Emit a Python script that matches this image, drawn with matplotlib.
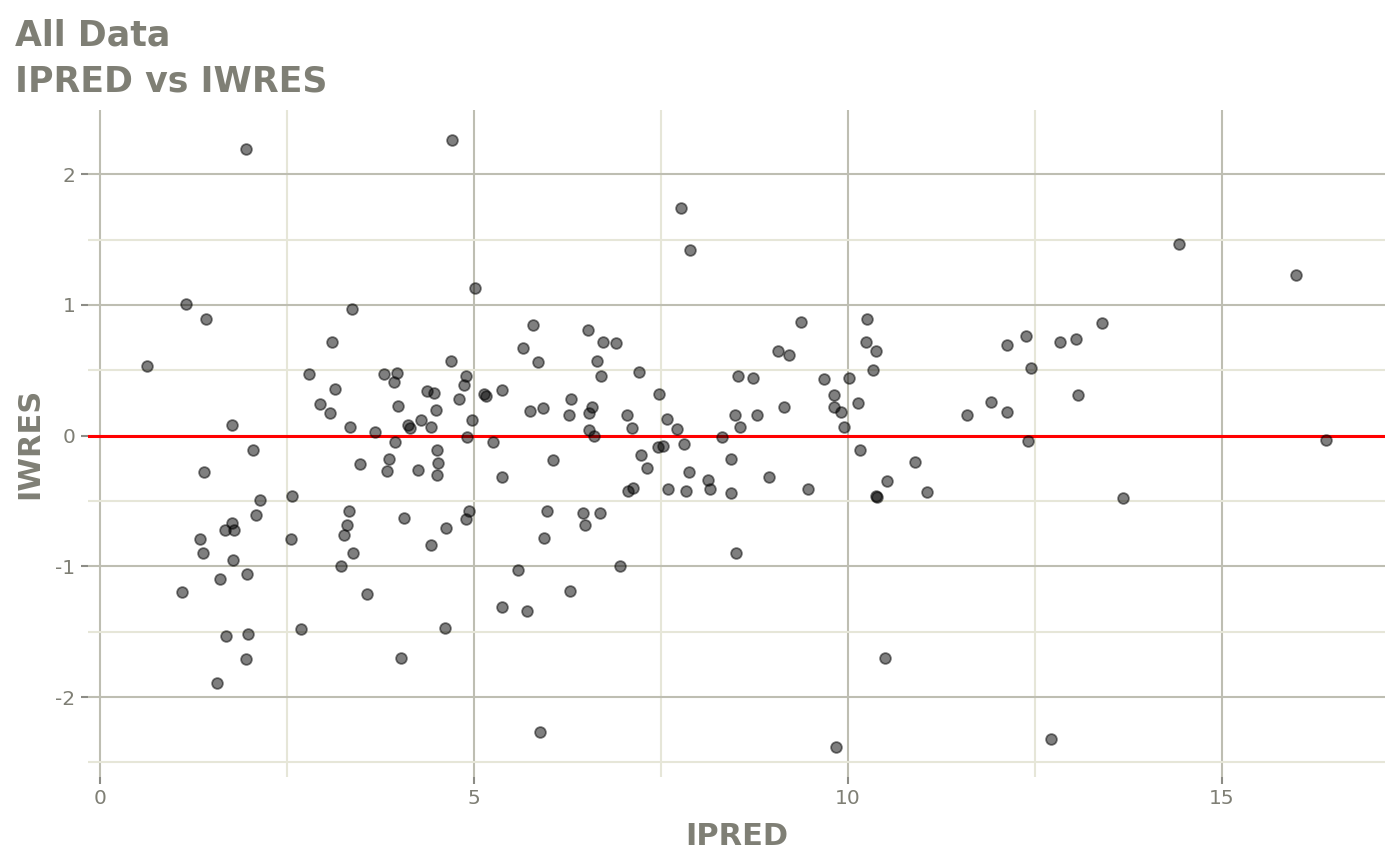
import matplotlib
matplotlib.use("Agg")
import matplotlib.pyplot as plt

# IPRED / IWRES values
ipred = [1.95, 1.15, 1.42, 3.37, 0.63, 3.10, 2.80, 3.80, 3.97, 3.93,
         3.15, 2.94, 3.08, 3.98, 1.77, 3.35, 3.68, 3.94, 2.05, 1.39,
         2.14, 2.57, 3.48, 3.86, 3.84, 2.09, 1.77, 1.67, 1.80, 1.34,
         1.38, 1.78, 2.55, 3.33, 3.31, 3.26, 3.39, 3.23, 4.07, 1.97,
         1.60, 1.10, 3.57, 2.69, 1.68, 1.98, 1.95, 1.56, 4.02, 4.71,
         7.77, 7.89, 5.02, 5.79, 6.52, 6.72, 6.90, 5.65, 6.65, 5.86,
         4.70, 6.70, 7.21, 4.89, 4.87, 4.37, 4.47, 4.80, 5.14, 5.16,
         5.38, 4.50, 4.29, 4.12, 4.14, 4.42, 4.97, 4.91, 4.51, 5.25,
         5.75, 5.92, 6.30, 6.27, 6.54, 6.58, 6.54, 6.60, 7.05, 7.11,
         7.47, 7.58, 7.72, 7.81, 7.53, 7.46, 4.25, 4.52, 4.51, 5.38,
         6.06, 7.24, 7.31, 7.88, 7.06, 7.13, 7.60, 7.83, 4.63, 4.90,
         4.94, 4.42, 5.98, 6.46, 6.49, 6.68, 5.94, 5.59, 6.95, 6.28,
         5.38, 5.71, 4.62, 5.89, 9.37, 10.26, 10.24, 10.38, 9.07, 9.21,
         10.33, 8.53, 8.73, 9.68, 10.01, 9.81, 10.14, 9.15, 9.81, 9.91,
         9.95, 8.49, 8.79, 8.56, 8.32, 11.59, 10.16, 8.43, 8.13, 8.15,
         8.44, 8.94, 9.47, 10.90, 10.52, 10.37, 10.39, 11.06, 8.51, 10.50,
         9.84, 14.43, 15.99, 13.40, 12.38, 12.13, 12.83, 13.05, 12.45, 13.08,
         11.91, 12.12, 12.41, 16.39, 13.67, 12.71]
iwres = [2.19, 1.01, 0.89, 0.97, 0.53, 0.72, 0.47, 0.47, 0.48, 0.41,
         0.36, 0.24, 0.17, 0.23, 0.08, 0.07, 0.03, -0.05, -0.11, -0.28,
         -0.49, -0.46, -0.22, -0.18, -0.27, -0.61, -0.67, -0.72, -0.72, -0.79,
         -0.90, -0.95, -0.79, -0.58, -0.68, -0.76, -0.90, -1.00, -0.63, -1.06,
         -1.10, -1.20, -1.21, -1.48, -1.53, -1.52, -1.71, -1.89, -1.70, 2.26,
         1.74, 1.42, 1.13, 0.85, 0.81, 0.72, 0.71, 0.67, 0.57, 0.56,
         0.57, 0.46, 0.49, 0.46, 0.39, 0.34, 0.33, 0.28, 0.32, 0.30,
         0.35, 0.20, 0.12, 0.08, 0.06, 0.07, 0.12, -0.01, -0.11, -0.05,
         0.19, 0.21, 0.28, 0.16, 0.17, 0.22, 0.04, 0.00, 0.16, 0.06,
         0.32, 0.13, 0.05, -0.06, -0.08, -0.09, -0.26, -0.21, -0.30, -0.32,
         -0.19, -0.15, -0.25, -0.28, -0.42, -0.40, -0.41, -0.42, -0.71, -0.64,
         -0.58, -0.84, -0.58, -0.59, -0.68, -0.59, -0.78, -1.03, -1.00, -1.19,
         -1.31, -1.34, -1.47, -2.27, 0.87, 0.89, 0.72, 0.65, 0.65, 0.62,
         0.50, 0.46, 0.44, 0.43, 0.44, 0.31, 0.25, 0.22, 0.22, 0.18,
         0.07, 0.16, 0.16, 0.07, -0.01, 0.16, -0.11, -0.18, -0.34, -0.41,
         -0.44, -0.32, -0.41, -0.20, -0.35, -0.46, -0.47, -0.43, -0.90, -1.70,
         -2.38, 1.47, 1.23, 0.86, 0.76, 0.69, 0.72, 0.74, 0.52, 0.31,
         0.26, 0.18, -0.04, -0.03, -0.48, -2.32]

x_major = [0, 5, 10, 15]
x_minor = [2.5, 7.5, 12.5]
y_major = [-2, -1, 0, 1, 2]
y_minor = [-2.5, -1.5, -0.5, 0.5, 1.5]

txt_col = "#7f7f75"
plt.rcParams["axes.unicode_minus"] = False

fig = plt.figure(figsize=(14, 8.65), dpi=100)
ax = fig.add_axes([88 / 1400, 88 / 865, (1385 - 88) / 1400, (777 - 110) / 865])

ax.scatter(ipred, iwres, s=60, facecolor=(0, 0, 0, 0.5), edgecolor=(0, 0, 0, 0.5),
           linewidth=1.3, zorder=3)
ax.axhline(0, color="#ff0000", linewidth=2.2, zorder=2)

# limits with ggplot's 5% expansion
xr = max(ipred) - min(ipred)
yr = max(iwres) - min(iwres)
ax.set_xlim(min(ipred) - 0.05 * xr, max(ipred) + 0.05 * xr)
ax.set_ylim(min(iwres) - 0.05 * yr, max(iwres) + 0.05 * yr)

ax.set_xticks(x_major)
ax.set_xticks(x_minor, minor=True)
ax.set_yticks(y_major)
ax.set_yticks(y_minor, minor=True)
ax.set_xticklabels([str(v) for v in x_major])
ax.set_yticklabels([str(v) for v in y_major])

ax.grid(which="major", color="#bebeb2", linewidth=1.5)
ax.grid(which="minor", color="#e6e6d8", linewidth=1.5)
ax.set_axisbelow(True)
for s in ax.spines.values():
    s.set_visible(False)
ax.tick_params(which="major", length=5, width=1.5, color="#8c8c86",
               labelsize=14.5, labelcolor=txt_col, pad=4)
ax.tick_params(which="minor", length=0)

ax.set_xlabel("IPRED", fontsize=22, fontweight="bold", color=txt_col, labelpad=10)
ax.set_ylabel("IWRES", fontsize=22, fontweight="bold", color=txt_col, labelpad=8)

fig.text(15 / 1400, 1 - 45 / 865, "All Data", fontsize=25, fontweight="bold",
         color=txt_col, va="baseline", ha="left")
fig.text(15 / 1400, 1 - 92 / 865, "IPRED vs IWRES", fontsize=25, fontweight="bold",
         color=txt_col, va="baseline", ha="left")

plt.savefig("out.png", dpi=100)
plt.close()
